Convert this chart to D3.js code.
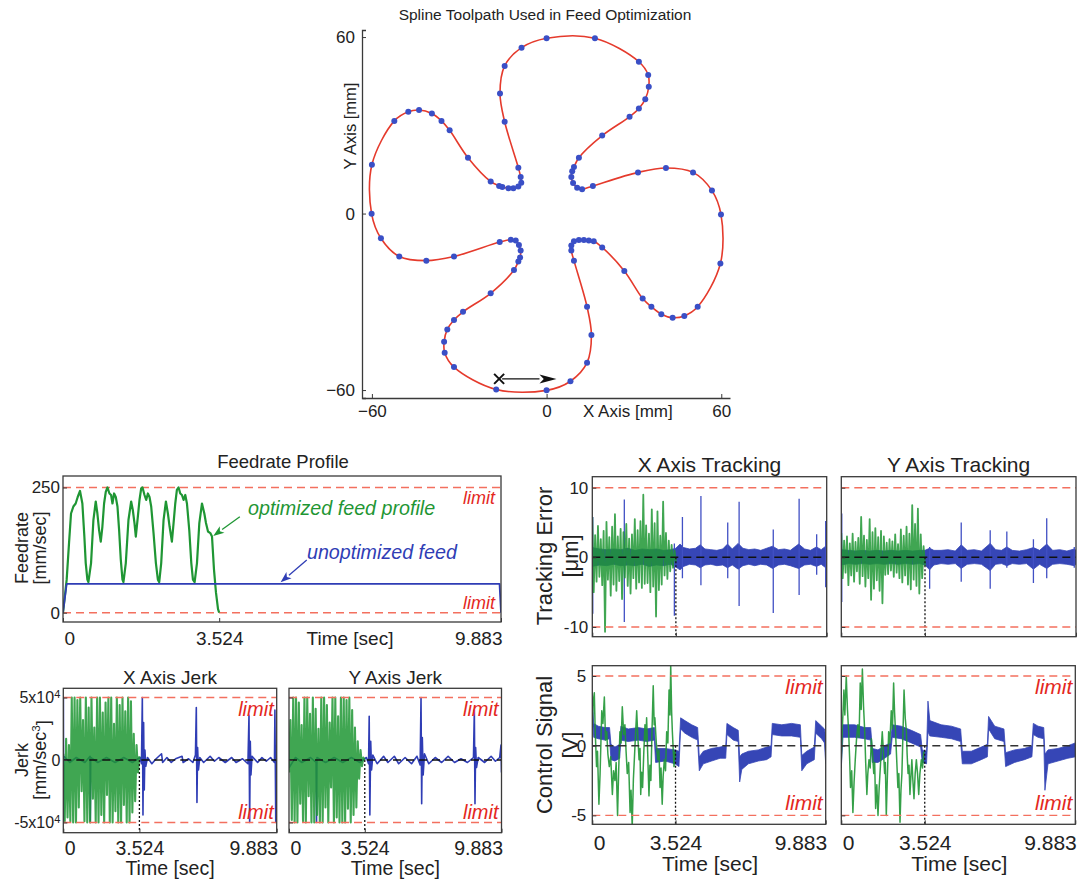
<!DOCTYPE html>
<html>
<head>
<meta charset="utf-8">
<script src="https://cdn.jsdelivr.net/npm/d3@7"></script>
<style>
  body { margin: 0; background: #fff; }
  svg text { font-family: "Liberation Sans", Arial, Helvetica, sans-serif; fill: #222; }
</style>
</head>
<body>
<script>
// ---------------------------------------------------------------
// Data
// ---------------------------------------------------------------

// Spline knots of the four-lobed toolpath, [x, y] in mm
const toolpathKnots = [
  [-17.3,-59.8],[0,-60.1],[8.2,-57.0],[13.9,-50.7],[15.4,-41.3],[13.9,-31.7],[9.4,-16.0],
  [8.5,-12.6],[8.5,-10.9],[9.4,-9.4],[11.1,-9.0],[12.8,-9.0],[14.5,-9.2],[16.2,-9.4],
  [19.1,-11.5],[26.7,-19.5],[33.0,-28.9],[36.0,-31.7],[39.4,-34.2],[43.3,-35.4],[47.3,-34.8],
  [51.9,-31.7],[59.7,-17.0],[59.9,-0.3],[56.8,7.8],[50.3,14.0],[41.0,15.5],[31.4,14.0],
  [15.9,9.4],[12.2,8.3],[10.5,8.8],[9.1,10.4],[8.5,12.4],[8.8,14.4],[9.4,15.8],[11.1,19.0],
  [19.1,26.5],[28.5,32.9],[31.7,35.7],[33.9,38.9],[35.1,43.1],[34.9,47.1],[31.7,51.6],
  [16.6,59.6],[0,59.6],[-8.6,56.4],[-14.4,50.2],[-16.0,40.8],[-14.4,31.2],[-9.7,15.6],
  [-8.9,12.4],[-8.7,10.5],[-9.7,9.2],[-11.4,8.6],[-13.1,8.6],[-15.2,9.0],[-16.3,9.4],
  [-19.2,10.9],[-27.0,19.0],[-33.3,28.3],[-36.1,31.5],[-39.4,34.0],[-43.8,35.2],[-47.5,34.6],
  [-52.3,31.5],[-60.0,16.6],[-60.1,-0.1],[-56.9,-8.4],[-50.6,-14.6],[-41.3,-16.0],[-31.8,-14.6],
  [-16.1,-9.7],[-12.3,-8.9],[-10.6,-9.2],[-9.5,-10.7],[-8.9,-12.6],[-9.1,-14.9],[-9.7,-16.3],
  [-11.2,-19.2],[-19.2,-27.1],[-28.7,-33.4],[-31.8,-36.2],[-34.1,-39.4],[-35.2,-43.6],
  [-35.0,-47.3],[-31.8,-52.2]
];
const toolStart = [-16.3, -56.2];
const toolArrowTip = [3.4, -56.2];
const toolTicks = [-60, 0, 60];

// Time axis
const OPT_END = 3.524;     // optimized cycle time [sec]
const T_END = 9.883;       // unoptimized cycle time [sec]
const timeTicks = [0, OPT_END, T_END];
const timeTickLabels = ["0", "3.524", "9.883"];

// Feedrate [mm/sec] vs time [sec]
const feedOptimized = [
  [0,0],[0.083,66],[0.136,139],[0.181,198],[0.234,212],[0.286,218],[0.332,231],[0.384,243],
  [0.437,218],[0.482,152],[0.513,99],[0.550,66],[0.573,61],[0.633,99],[0.686,185],[0.739,222],
  [0.776,198],[0.814,165],[0.852,142],[0.889,172],[0.927,218],[0.965,241],[1.003,250],[1.048,238],
  [1.085,235],[1.116,218],[1.153,238],[1.191,231],[1.229,212],[1.266,165],[1.304,106],[1.342,66],
  [1.364,61],[1.417,99],[1.477,185],[1.538,222],[1.575,205],[1.613,179],[1.643,152],[1.689,192],
  [1.726,225],[1.764,248],[1.794,250],[1.839,235],[1.877,225],[1.915,238],[1.952,231],[1.990,212],
  [2.043,159],[2.096,99],[2.141,66],[2.171,61],[2.216,99],[2.269,185],[2.322,222],[2.367,198],
  [2.405,172],[2.457,142],[2.495,179],[2.533,218],[2.570,245],[2.608,250],[2.646,238],[2.684,235],
  [2.721,225],[2.759,235],[2.797,218],[2.849,165],[2.895,99],[2.932,66],[2.970,61],[3.023,99],
  [3.076,179],[3.136,218],[3.189,198],[3.226,179],[3.272,162],[3.324,159],[3.362,152],[3.407,86],
  [3.452,40],[3.498,7],[3.524,0]
];
const feedUnoptimized = [[0,0],[0.083,57.5],[9.85,57.5],[9.883,0]];
const feedLimits = [0, 250];
const feedTicks = [0, 250];

// Axis jerk [x10^4 mm/sec^3]; optimized signals are sampled uniformly over [0, OPT_END]
const jerkXOptimized = [
  0.5,-4.9,1.7,-4.6,1.2,-4.9,5.0,-5.0,5.0,-5.0,4.8,-3.8,5.0,-2.5,3.2,-4.9,5.0,-5.0,4.2,-5.0,
  5.0,-3.1,2.6,-5.0,5.0,-5.0,5.0,-4.4,3.8,-5.0,4.6,-2.8,5.0,-5.0,5.0,-5.0,2.9,-4.1,5.0,-5.0,
  4.4,-5.0,5.0,-3.6,3.9,-5.0,5.0,-5.0,4.7,-4.2,2.1,-3.3,1.2,-1.0,0.3
];
const jerkYOptimized = [
  -1.0,3.2,-4.8,5.0,-5.0,5.0,-5.0,4.6,-3.5,2.8,-4.9,5.0,-5.0,5.0,-2.9,3.7,-5.0,5.0,-5.0,4.1,
  -4.4,2.5,-5.0,5.0,-5.0,5.0,-3.8,4.4,-5.0,3.0,-2.2,5.0,-5.0,5.0,-4.6,3.5,-5.0,5.0,-5.0,5.0,
  -5.0,4.8,-3.9,5.0,-5.0,4.0,-4.4,2.6,-3.8,1.5,-1.5,0.8,-0.5,0.2,0.0
];
const jerkXUnoptimized = [
  [0.00,0],[0.005,5.0],[0.015,-4.9],[0.03,0.3],[0.3,-0.2],[0.6,0.2],[1.0,-0.2],[1.24,0.3],[1.25,-5.0],
  [1.27,0.2],[1.6,-0.2],[2.0,0.2],[2.4,-0.2],[2.8,0.2],[3.2,-0.2],[3.55,0.2],[3.62,-0.3],[3.66,5.0],
  [3.69,-4.4],[3.72,3.0],[3.75,-2.4],[3.78,0.8],[3.82,-0.5],[3.9,0.2],[4.1,-0.3],[4.3,0.1],[4.55,0.5],
  [4.6,-0.2],[4.8,0.2],[5.0,-0.2],[5.2,0.1],[5.5,0.3],[5.55,-0.2],[5.8,0.1],[6.0,-0.2],[6.12,0.4],
  [6.16,4.2],[6.19,-3.4],[6.22,1.0],[6.26,-0.8],[6.32,0.2],[6.5,-0.2],[6.8,0.3],[7.0,-0.1],[7.2,0.2],
  [7.5,-0.2],[7.8,0.2],[8.0,-0.2],[8.3,0.1],[8.55,-0.3],[8.6,3.6],[8.63,-5.0],[8.66,1.5],[8.69,-1.2],
  [8.74,0.3],[9.0,-0.2],[9.2,0.2],[9.4,-0.1],[9.6,0.2],[9.78,-0.2],[9.8,4.0],[9.84,-5.0],[9.883,0]
];
const jerkYUnoptimized = [
  [0,0.8],[0.01,-0.6],[0.3,0.2],[0.6,-0.2],[1.0,0.2],[1.26,-0.2],[1.28,-5.0],[1.30,0.2],[1.7,-0.2],
  [2.1,0.2],[2.5,-0.2],[2.9,0.2],[3.3,-0.2],[3.6,0.2],[3.70,-0.3],[3.73,3.5],[3.76,-4.4],[3.80,1.5],
  [3.84,-0.8],[3.9,0.4],[4.1,-0.3],[4.4,0.3],[4.6,-0.2],[4.9,0.3],[5.1,-0.3],[5.4,0.2],[5.7,-0.3],
  [5.95,0.3],[6.10,-0.4],[6.14,5.0],[6.17,-3.5],[6.20,1.8],[6.24,-1.2],[6.3,0.5],[6.5,-0.3],[6.8,0.2],
  [7.1,-0.2],[7.4,0.3],[7.7,-0.2],[8.0,0.1],[8.3,-0.2],[8.58,0.2],[8.62,4.0],[8.65,-3.5],[8.68,1.0],
  [8.72,-0.6],[8.8,0.2],[9.1,-0.2],[9.4,0.3],[9.6,-0.1],[9.8,0.2],[9.86,1.2],[9.883,-1.0]
];
const jerkLimits = [-5, 5];
const jerkTicks = [-5, 0, 5];

// Tracking error [um]; optimized signals sampled uniformly over [0, OPT_END]
const trackXOptimized = [
  5.8,-5.0,3.2,-3.5,4.5,-2.8,2.6,-4.0,3.8,-10.7,5.1,-3.2,2.9,-5.5,4.4,-3.9,6.2,-4.8,3.0,-3.4,
  4.1,-6.0,3.6,-2.9,4.8,-4.1,2.7,-5.2,3.3,-3.0,5.5,-4.5,3.9,-3.6,5.2,-4.4,9.0,-3.8,4.6,-3.7,
  3.4,-5.0,6.9,-4.2,4.9,-8.5,6.6,-4.7,3.1,-3.9,8.0,-2.6,3.5,-3.1,2.4,-2.0,1.8,-1.5,1.0,-0.6
];
const trackYOptimized = [
  3.5,-3.0,2.4,-2.2,3.0,-4.0,2.0,-2.6,3.4,-3.5,2.2,-2.0,2.8,-3.8,5.8,-2.7,3.1,-4.2,2.5,-3.0,
  5.5,-6.1,3.6,-4.5,4.2,-3.3,2.9,-4.8,3.8,-6.6,3.0,-2.5,2.1,-2.4,2.6,-1.9,2.3,-2.8,3.3,-2.2,
  1.9,-3.0,4.0,-3.6,3.1,-2.6,4.4,-3.9,3.4,-4.6,7.5,-3.2,4.8,-4.1,7.0,-5.2,3.3,-3.0,1.6,-1.2
];
// unoptimized tracking error: noise envelope [t, low, high] and isolated peaks [t, low, high]
const trackXBand = [
  [0.00,-1.3,1.4],[0.30,-1.1,1.2],[0.60,-1.2,1.1],[0.90,-1.0,1.2],[1.20,-1.2,1.1],[1.50,-1.1,1.3],
  [1.80,-1.2,1.0],[2.10,-1.0,1.2],[2.40,-1.3,1.1],[2.70,-1.1,1.2],[3.00,-1.2,1.0],[3.30,-1.0,1.1],
  [3.52,-1.4,1.3],[3.70,-1.8,1.9],[3.85,-1.3,1.4],[4.10,-1.0,1.2],[4.35,-1.1,1.3],[4.55,-1.5,1.8],
  [4.75,-1.1,1.2],[5.00,-1.0,1.1],[5.25,-1.2,1.0],[5.50,-1.1,1.2],[5.70,-1.5,1.9],[5.90,-1.1,1.2],
  [6.15,-1.7,2.0],[6.35,-1.2,1.3],[6.60,-1.0,1.1],[6.85,-1.2,1.2],[7.10,-1.0,1.0],[7.35,-1.1,1.3],
  [7.60,-1.6,1.6],[7.85,-1.1,1.1],[8.10,-1.0,1.2],[8.35,-1.2,1.0],[8.70,-1.6,1.9],[8.95,-1.1,1.2],
  [9.20,-1.0,1.0],[9.45,-1.3,1.5],[9.65,-1.0,1.1],[9.84,-1.5,1.6],[9.883,-1.0,1.0]
];
const trackXPeaks = [
  [0.02,-8.1,5.8],[1.35,-9.3,8.3],[3.46,-8.4,2.0],[3.80,-3.0,5.8],[4.58,-4.0,8.8],[5.71,-3.0,5.0],
  [6.19,-7.0,8.0],[7.63,-8.0,4.0],[8.72,-5.4,8.4],[9.46,-2.5,3.3],[9.84,-4.3,5.2]
];
const trackYBand = [
  [0.00,-1.1,1.1],[0.30,-0.9,1.0],[0.60,-1.0,0.9],[0.90,-0.9,1.0],[1.20,-1.0,0.9],[1.50,-0.9,1.0],
  [1.80,-1.0,0.9],[2.10,-0.9,1.0],[2.40,-1.0,0.9],[2.70,-0.9,1.0],[3.00,-1.0,0.9],[3.30,-0.9,1.0],
  [3.52,-1.1,1.0],[3.72,-1.8,1.3],[3.90,-1.1,1.0],[4.20,-0.9,1.0],[4.50,-1.0,1.1],[4.80,-0.9,0.9],
  [5.05,-1.6,1.8],[5.30,-1.0,1.0],[5.60,-0.9,1.1],[5.90,-1.0,0.9],[6.27,-1.9,2.0],[6.50,-1.0,1.1],
  [6.75,-0.9,1.0],[6.97,-1.2,1.5],[7.20,-0.9,1.0],[7.50,-1.0,0.9],[7.80,-0.9,1.1],[8.09,-1.7,1.4],
  [8.35,-1.0,1.0],[8.65,-1.6,1.9],[8.90,-1.0,1.0],[9.20,-0.9,1.1],[9.50,-1.0,0.9],[9.81,-1.2,1.2],
  [9.883,-1.0,1.0]
];
const trackYPeaks = [
  [0.02,-6.4,6.3],[3.72,-4.5,1.5],[5.05,-3.5,5.0],[6.27,-4.5,3.9],[6.97,-1.5,3.7],[8.09,-3.7,2.6],
  [8.65,-3.0,5.6],[9.81,-1.5,1.5]
];
const trackLimits = [-10, 10];
const trackTicks = [-10, 0, 10];

// Control signal [V]
const ctrlXOptimized = [
  [0.00,1.5],[0.04,3.2],[0.085,3.8],[0.12,1.2],[0.18,-1.5],[0.22,-0.4],[0.28,-4.2],[0.33,-2.0],
  [0.40,2.5],[0.45,1.6],[0.51,3.5],[0.56,0.4],[0.61,1.0],[0.66,-0.6],[0.72,-1.5],[0.78,-0.8],
  [0.85,-3.5],[0.90,-1.8],[0.96,-2.5],[1.01,-1.2],[1.07,-5.0],[1.12,-1.6],[1.17,1.0],[1.22,0.2],
  [1.27,2.8],[1.33,0.8],[1.38,1.5],[1.43,-0.4],[1.48,-2.0],[1.54,-1.2],[1.60,-4.8],[1.64,-3.2],
  [1.69,-5.8],[1.74,-2.4],[1.78,-1.0],[1.83,0.8],[1.88,2.5],[1.93,0.6],[1.98,-1.0],[2.02,-0.2],
  [2.05,-3.5],[2.09,-1.9],[2.13,-3.0],[2.18,-0.5],[2.23,1.5],[2.27,0.4],[2.30,2.0],[2.35,-0.8],
  [2.40,-3.6],[2.44,-1.4],[2.48,-2.5],[2.53,1.2],[2.58,4.3],[2.62,1.5],[2.65,2.0],[2.71,0.2],
  [2.77,-1.0],[2.82,-0.3],[2.87,-3.0],[2.91,-1.6],[2.96,-4.2],[3.00,-2.2],[3.05,-1.0],[3.10,-1.8],
  [3.15,1.0],[3.20,0.2],[3.25,4.0],[3.29,2.2],[3.32,5.8],[3.36,2.4],[3.39,1.0],[3.43,-0.4],
  [3.46,-1.5],[3.50,-0.4],[3.524,-0.8]
];
const ctrlYOptimized = [
  [0.00,-1.0],[0.05,1.5],[0.11,4.0],[0.15,2.2],[0.21,5.0],[0.26,2.6],[0.31,1.0],[0.35,-0.8],
  [0.39,-3.0],[0.44,-1.8],[0.49,-4.8],[0.54,-2.6],[0.59,-1.0],[0.64,0.4],[0.70,1.5],[0.75,0.6],
  [0.80,4.5],[0.84,2.6],[0.89,5.5],[0.94,2.8],[0.99,1.0],[1.03,-1.2],[1.08,-3.5],[1.12,-2.0],
  [1.17,-1.0],[1.22,-1.6],[1.27,0.5],[1.32,-0.6],[1.37,-2.0],[1.41,-1.2],[1.45,-4.5],[1.50,-2.8],
  [1.55,-5.0],[1.60,-3.0],[1.65,-1.5],[1.69,-0.2],[1.73,1.0],[1.78,-0.4],[1.83,-2.0],[1.86,-1.2],
  [1.90,-5.0],[1.95,-2.0],[2.00,1.0],[2.05,0.2],[2.11,2.5],[2.16,1.2],[2.21,4.5],[2.25,2.4],
  [2.29,1.0],[2.34,-1.0],[2.39,-3.0],[2.43,-2.0],[2.48,-5.5],[2.52,-3.2],[2.56,-2.0],[2.60,0.6],
  [2.65,4.0],[2.70,2.0],[2.75,1.0],[2.78,-0.6],[2.82,-2.0],[2.86,-1.4],[2.90,-3.5],[2.94,-2.2],
  [2.98,-1.0],[3.02,-2.4],[3.07,-3.8],[3.12,-2.0],[3.17,-1.0],[3.22,-2.0],[3.27,-3.5],[3.32,-2.0],
  [3.38,-1.0],[3.43,-1.6],[3.48,-0.5],[3.524,-0.4]
];
// unoptimized control signal envelope [t, low, high]
const ctrlXBand = [
  [0.00,2.2,3.4],[0.06,0.6,1.6],[0.25,0.5,1.4],[0.54,0.4,1.3],[0.73,0.5,1.3],[0.79,-1.0,0.1],
  [0.96,-1.1,-0.1],[1.16,-0.9,0.1],[1.21,0.4,1.4],[1.52,0.3,1.2],[1.95,0.4,1.3],[2.30,0.3,1.2],
  [2.63,0.4,1.3],[2.68,-1.2,-0.2],[3.08,-1.1,-0.2],[3.50,-1.3,-0.3],[3.67,-1.5,-0.4],[3.74,1.2,2.0],
  [3.92,0.9,1.8],[4.21,0.6,1.5],[4.46,0.4,1.3],[4.53,-1.8,-0.8],[4.70,-1.3,-0.4],[5.05,-1.1,-0.2],
  [5.41,-0.9,-0.1],[5.65,-0.9,0.0],[5.70,0.8,1.6],[5.97,0.4,1.3],[6.18,0.3,1.1],[6.24,-2.6,-0.8],
  [6.33,-1.7,-0.6],[6.61,-1.3,-0.4],[7.03,-1.1,-0.3],[7.38,-1.0,-0.1],[7.57,-0.8,0.0],[7.62,0.8,1.6],
  [8.02,0.7,1.5],[8.44,0.7,1.6],[8.81,0.6,1.5],[8.87,-1.8,-0.7],[9.08,-1.3,-0.4],[9.40,-1.0,-0.1],
  [9.46,0.9,1.8],[9.71,0.5,1.4],[9.83,0.2,1.2],[9.883,-1.3,0.6]
];
const ctrlYBand = [
  [0.00,-1.6,1.0],[0.07,0.6,1.5],[0.56,0.6,1.5],[0.99,0.5,1.3],[1.24,0.4,1.3],[1.31,-1.2,-0.2],
  [1.55,-1.2,-0.3],[1.83,-0.9,0.0],[2.08,-0.6,0.2],[2.15,0.6,1.5],[2.53,0.5,1.4],[2.96,0.2,1.1],
  [3.35,-0.1,0.8],[3.42,-1.2,-0.3],[3.60,-1.3,-0.4],[3.66,1.0,3.2],[3.74,0.7,1.8],[4.22,0.6,1.5],
  [4.65,0.5,1.4],[5.04,0.3,1.2],[5.11,-1.3,-0.4],[5.49,-1.3,-0.4],[5.91,-1.0,-0.1],[6.17,-0.8,0.1],
  [6.22,1.2,2.1],[6.48,0.5,1.4],[6.87,0.3,1.2],[6.94,-1.5,-0.5],[7.32,-1.2,-0.3],[7.74,-1.0,-0.2],
  [8.05,-0.8,0.0],[8.11,0.8,1.6],[8.31,0.6,1.4],[8.55,0.5,1.3],[8.60,-3.2,-0.6],[8.73,-1.3,-0.3],
  [9.15,-1.1,-0.2],[9.57,-0.9,0.0],[9.883,-0.8,0.2]
];
const ctrlLimits = [-5, 5];
const ctrlTicks = [-5, 0, 5];

// ---------------------------------------------------------------
// Drawing
// ---------------------------------------------------------------
const COLORS = {
  path: "#e53a2c", knot: "#3a4fc6", green: "#1f9634", blue: "#2f3db5",
  blueBand: "#3646b6", limit: "#f3705f", limitText: "#e4281e", frame: "#3a3a3a", ink: "#222"
};

const svg = d3.select("body").append("svg").attr("width", 1082).attr("height", 880);
const defs = svg.append("defs");
let clipSeq = 0;

function panel(f, xDom, yDom) {
  const x = d3.scaleLinear().domain(xDom).range([f.l, f.r]);
  const y = d3.scaleLinear().domain(yDom).range([f.b, f.t]);
  const id = "plotclip" + (clipSeq++);
  defs.append("clipPath").attr("id", id).append("rect")
    .attr("x", f.l).attr("y", f.t).attr("width", f.r - f.l).attr("height", f.b - f.t);
  const root = svg.append("g");
  const plot = root.append("g").attr("clip-path", `url(#${id})`);
  return { x, y, f, root, plot };
}

function styleAxis(g, size) {
  g.attr("font-size", size).attr("font-family", null);
  g.select(".domain").remove();
  g.selectAll(".tick line").attr("stroke", COLORS.frame);
  g.selectAll(".tick text").attr("fill", COLORS.ink);
}

function xAxis(p, labels, size, pad) {
  const g = p.root.append("g").attr("transform", `translate(0,${p.f.b})`)
    .call(d3.axisBottom(p.x).tickValues(timeTicks)
      .tickFormat((d, i) => labels ? labels[i] : "").tickSize(-4).tickPadding(pad));
  styleAxis(g, size);
  if (labels) {
    const t = g.selectAll(".tick text");
    t.filter((d, i) => i === 0).attr("text-anchor", "start").attr("dx", 1);
    t.filter((d, i, n) => i === n.length - 1).attr("text-anchor", "end").attr("dx", 1);
  }
  return g;
}

function yAxis(p, ticks, fmt, size, pad) {
  const g = p.root.append("g").attr("transform", `translate(${p.f.l},0)`)
    .call(d3.axisLeft(p.y).tickValues(ticks).tickFormat(fmt || (() => "")).tickSize(-4).tickPadding(pad));
  styleAxis(g, size);
  return g;
}

function frame(p) {
  p.root.append("rect").attr("x", p.f.l).attr("y", p.f.t)
    .attr("width", p.f.r - p.f.l).attr("height", p.f.b - p.f.t)
    .attr("fill", "none").attr("stroke", COLORS.frame).attr("stroke-width", 1.3);
}

function limitLines(p, values) {
  p.plot.selectAll(null).data(values).join("line")
    .attr("x1", p.f.l).attr("x2", p.f.r)
    .attr("y1", d => p.y(d)).attr("y2", d => p.y(d))
    .attr("stroke", COLORS.limit).attr("stroke-width", 1.4).attr("stroke-dasharray", "8,5");
}

function limitLabels(p, values, size, offsets, inset) {
  p.root.selectAll(null).data(values).join("text")
    .attr("x", p.f.r - inset).attr("y", (d, i) => p.y(d) + offsets[i])
    .attr("text-anchor", "end").attr("font-size", size).attr("font-style", "italic")
    .style("fill", COLORS.limitText).text("limit");
}

function zeroLine(p, color) {
  p.plot.append("line").attr("x1", p.f.l).attr("x2", p.f.r)
    .attr("y1", p.y(0)).attr("y2", p.y(0))
    .attr("stroke", color).attr("stroke-width", 1.5).attr("stroke-dasharray", "8,5");
}

function cycleEndMarker(p) {
  p.plot.append("line").attr("x1", p.x(OPT_END)).attr("x2", p.x(OPT_END))
    .attr("y1", p.y(0)).attr("y2", p.f.b)
    .attr("stroke", "#111").attr("stroke-width", 1.3).attr("stroke-dasharray", "2,2");
}

function uniformSeries(values) {
  return values.map((v, i) => [i * OPT_END / (values.length - 1), v]);
}

function drawLine(p, data, color, width, opacity) {
  p.plot.append("path").datum(data)
    .attr("d", d3.line().x(d => p.x(d[0])).y(d => p.y(d[1])))
    .attr("fill", "none").attr("stroke", color).attr("stroke-width", width)
    .attr("stroke-opacity", opacity == null ? 1 : opacity).attr("stroke-linejoin", "round");
}

function drawBand(p, data, color) {
  p.plot.append("path").datum(data)
    .attr("d", d3.area().x(d => p.x(d[0])).y0(d => p.y(d[1])).y1(d => p.y(d[2])))
    .attr("fill", color).attr("stroke", color).attr("stroke-width", 0.8);
}

function drawPeaks(p, data, color) {
  p.plot.selectAll(null).data(data).join("line")
    .attr("x1", d => p.x(d[0])).attr("x2", d => p.x(d[0]))
    .attr("y1", d => p.y(d[1])).attr("y2", d => p.y(d[2]))
    .attr("stroke", color).attr("stroke-width", 1.3);
}

function rotatedLabel(lines, xs, cy, size) {
  lines.forEach((s, i) => {
    const t = svg.append("text")
      .attr("transform", `translate(${xs[i]},${cy}) rotate(-90)`)
      .attr("text-anchor", "middle").attr("dominant-baseline", "central")
      .attr("font-size", size);
    if (Array.isArray(s)) {
      t.append("tspan").text(s[0]);
      t.append("tspan").attr("dy", "-0.4em").attr("font-size", size * 0.65).text(s[1]);
      t.append("tspan").attr("dy", "0.4em").text(s[2]);
    } else {
      t.text(s);
    }
  });
}

function text(x, y, s, size, opts) {
  const t = svg.append("text").attr("x", x).attr("y", y).attr("font-size", size).text(s);
  if (opts) Object.entries(opts).forEach(([k, v]) => t.attr(k, v));
  return t;
}

function arrow(g, x1, y1, x2, y2, color, len, half) {
  const a = Math.atan2(y2 - y1, x2 - x1);
  const bx = x2 - len * Math.cos(a), by = y2 - len * Math.sin(a);
  g.append("line").attr("x1", x1).attr("y1", y1).attr("x2", bx).attr("y2", by)
    .attr("stroke", color).attr("stroke-width", 1.3);
  const px = -Math.sin(a) * half, py = Math.cos(a) * half;
  g.append("path")
    .attr("d", `M${x2},${y2}L${bx + px},${by + py}L${bx + 0.25 * len * Math.cos(a)},${by + 0.25 * len * Math.sin(a)}L${bx - px},${by - py}Z`)
    .attr("fill", color);
}

// ---------- toolpath ----------
{
  const f = { l: 362, r: 730, t: 30, b: 398 };
  const x = d3.scaleLinear().domain([-63.4, 63]).range([f.l, f.r]);
  const y = d3.scaleLinear().domain([-62.7, 62.4]).range([f.b, f.t]);
  const g = svg.append("g");

  const ax = g.append("g").attr("transform", `translate(0,${f.b})`)
    .call(d3.axisBottom(x).tickValues(toolTicks).tickFormat(d => d < 0 ? "\u2212" + (-d) : d)
      .tickSize(-4).tickSizeOuter(0).tickPadding(7));
  const ay = g.append("g").attr("transform", `translate(${f.l},0)`)
    .call(d3.axisLeft(y).tickValues(toolTicks).tickFormat(d => d < 0 ? "\u2212" + (-d) : d)
      .tickSize(-4).tickSizeOuter(-4).tickPadding(7));
  [ax, ay].forEach(a => {
    a.attr("font-size", 17).attr("font-family", null);
    a.select(".domain").attr("stroke", COLORS.frame).attr("stroke-width", 1.3);
    a.selectAll(".tick line").attr("stroke", COLORS.frame);
    a.selectAll(".tick text").attr("fill", COLORS.ink);
  });

  g.append("path").datum(toolpathKnots)
    .attr("d", d3.line().x(d => x(d[0])).y(d => y(d[1])).curve(d3.curveCatmullRomClosed.alpha(0.5)))
    .attr("fill", "none").attr("stroke", COLORS.path).attr("stroke-width", 1.6);
  g.selectAll(null).data(toolpathKnots).join("circle")
    .attr("cx", d => x(d[0])).attr("cy", d => y(d[1])).attr("r", 3).attr("fill", COLORS.knot);

  // start point and direction of travel
  const sx = x(toolStart[0]), sy = y(toolStart[1]);
  g.append("path").attr("d", `M${sx - 5},${sy - 5}L${sx + 5},${sy + 5}M${sx - 5},${sy + 5}L${sx + 5},${sy - 5}`)
    .attr("stroke", "#111").attr("stroke-width", 2);
  arrow(g, sx + 3, sy, x(toolArrowTip[0]), y(toolArrowTip[1]), "#111", 17, 4.5);

  text(545, 20, "Spline Toolpath Used in Feed Optimization", 15.5, { "text-anchor": "middle" });
  text(583, 417, "X Axis [mm]", 17);
  rotatedLabel(["Y Axis [mm]"], [350], 126, 16.5);
}

// ---------- feedrate profile ----------
{
  const p = panel({ l: 63, r: 501, t: 476, b: 622 }, [0, T_END], [-18.6, 272.9]);
  limitLines(p, feedLimits);
  drawLine(p, feedOptimized, COLORS.green, 2.2);
  drawLine(p, feedUnoptimized, COLORS.blue, 1.8);
  frame(p);
  xAxis(p, timeTickLabels, 19, 9.5);
  yAxis(p, feedTicks, d => d, 17, 3);
  limitLabels(p, feedLimits, 18, [-4, 16.5], 6);

  text(283, 468, "Feedrate Profile", 18.5, { "text-anchor": "middle" });
  text(350, 645, "Time [sec]", 19, { "text-anchor": "middle" });
  rotatedLabel(["Feedrate", "[mm/sec]"], [22, 40], 548, 18);

  // annotations
  text(p.x(4.174), p.y(195), "optimized feed profile", 19.7, { "font-style": "italic" }).style("fill", COLORS.green);
  text(p.x(5.505), p.y(107), "unoptimized feed", 19.7, { "font-style": "italic" }).style("fill", COLORS.blue);
  arrow(p.root, p.x(3.99), p.y(191.7), p.x(3.39), p.y(153), COLORS.green, 11, 4);
  arrow(p.root, p.x(5.50), p.y(105), p.x(4.91), p.y(60.7), COLORS.blue, 11, 4);
}

// ---------- jerk ----------
function jerkPanel(f, optimized, unoptimized, title, withYLabels) {
  const p = panel(f, [0, T_END], [-5.82, 5.74]);
  drawLine(p, unoptimized, COLORS.blue, 1.6);
  drawLine(p, uniformSeries(optimized), COLORS.green, 2.1, 0.85);
  zeroLine(p, "#111");
  cycleEndMarker(p);
  limitLines(p, jerkLimits);
  frame(p);
  xAxis(p, timeTickLabels, 19.5, 8.5);
  const ay = yAxis(p, jerkTicks, withYLabels ? (d => d === 0 ? "0" : "") : null, 16, 3);
  if (withYLabels) {
    ay.selectAll(".tick text").each(function (d) {
      if (d === 0) return;
      const t = d3.select(this).text(null);
      t.append("tspan").text((d < 0 ? "-" : "") + "5x10");
      t.append("tspan").attr("dy", "-0.45em").attr("font-size", 11).text("4");
    });
  }
  limitLabels(p, jerkLimits, 20, [-3, 18.5], 3);
  const cx = (f.l + f.r) / 2;
  text(cx, 684, title, 19, { "text-anchor": "middle" });
  text(cx, 875, "Time [sec]", 19.5, { "text-anchor": "middle" });
  return p;
}
jerkPanel({ l: 63.3, r: 276.7, t: 688.3, b: 832.7 }, jerkXOptimized, jerkXUnoptimized, "X Axis Jerk", true);
jerkPanel({ l: 289, r: 501.5, t: 688.3, b: 832.7 }, jerkYOptimized, jerkYUnoptimized, "Y Axis Jerk", false);
rotatedLabel(["Jerk", ["[mm/sec", "3", "]"]], [22, 40], 760, 18);

// ---------- tracking error ----------
function trackPanel(f, optimized, band, peaks, title, withYLabels) {
  const p = panel(f, [0, T_END], [-11.4, 11.58]);
  drawBand(p, band, COLORS.blueBand);
  drawPeaks(p, peaks, "#4150c4");
  drawLine(p, uniformSeries(optimized), COLORS.green, 1.8, 0.85);
  zeroLine(p, "#111");
  cycleEndMarker(p);
  limitLines(p, trackLimits);
  frame(p);
  xAxis(p, null, 21, 10);
  yAxis(p, trackTicks, withYLabels ? (d => d) : null, 17, 4);
  text((f.l + f.r) / 2, 472, title, 21, { "text-anchor": "middle" });
  return p;
}
trackPanel({ l: 592.3, r: 826.7, t: 476.7, b: 636.7 }, trackXOptimized, trackXBand, trackXPeaks, "X Axis Tracking", true);
trackPanel({ l: 841.3, r: 1076, t: 476.7, b: 636.7 }, trackYOptimized, trackYBand, trackYPeaks, "Y Axis Tracking", false);
rotatedLabel(["Tracking Error", "[\u03BCm]"], [544, 570], 556, 22);

// ---------- control signal ----------
function ctrlPanel(f, optimized, band, withYLabels) {
  const p = panel(f, [0, T_END], [-5.64, 5.74]);
  drawBand(p, band, COLORS.blueBand);
  drawLine(p, optimized, COLORS.green, 1.5, 0.9);
  zeroLine(p, "#333");
  cycleEndMarker(p);
  limitLines(p, ctrlLimits);
  frame(p);
  xAxis(p, timeTickLabels, 21, 11);
  yAxis(p, ctrlTicks, withYLabels ? (d => d) : null, 17, 6);
  limitLabels(p, ctrlLimits, 21, [-5, 18], 3);
  text((f.l + f.r) / 2 + 1, 871, "Time [sec]", 21, { "text-anchor": "middle" });
  return p;
}
ctrlPanel({ l: 592.3, r: 825.7, t: 665.7, b: 824.3 }, ctrlXOptimized, ctrlXBand, true);
ctrlPanel({ l: 841.3, r: 1075.3, t: 665.7, b: 824.3 }, ctrlYOptimized, ctrlYBand, false);
rotatedLabel(["Control Signal", "[V]"], [544, 570], 745, 22);
</script>
</body>
</html>
